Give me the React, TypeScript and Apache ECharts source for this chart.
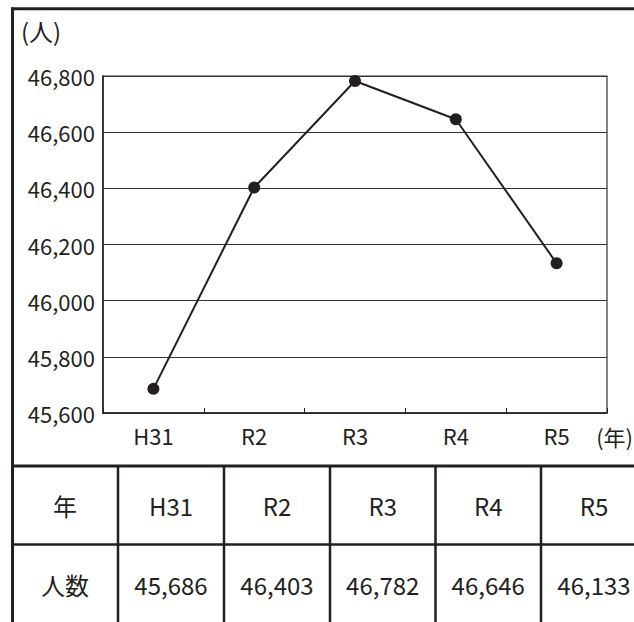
import React, { useEffect, useRef } from "react";
import * as echarts from "echarts";

const years = ["H31", "R2", "R3", "R4", "R5"];
const people = [45686, 46403, 46782, 46646, 46133];
const yTicks = { min: 45600, max: 46800, interval: 200 };
const yUnit = "(人)";
const xUnit = "(年)";
const rowHeaders = ["年", "人数"];

const FONT = "'Noto Sans CJK JP', 'Noto Sans', sans-serif";
const INK = "#231f20";

const fmt = (v: number) => v.toLocaleString("en-US");

export default function App() {
  const ref = useRef<HTMLDivElement>(null);
  useEffect(() => {
    if (!ref.current) return;
    const chart = echarts.init(ref.current, undefined, { renderer: "svg" });

    const colX = [12, 118, 224, 330, 435.5, 541, 647];
    const rowY = [466, 544.5, 624];
    const graphics: any[] = [];
    graphics.push({ type: "line", shape: { x1: 12.5, y1: 7.5, x2: 12.5, y2: 630 }, style: { stroke: INK, lineWidth: 3 } });
    graphics.push({ type: "line", shape: { x1: 11, y1: 8.8, x2: 640, y2: 8.8 }, style: { stroke: INK, lineWidth: 3 } });
    graphics.push({ type: "line", shape: { x1: 11, y1: rowY[0], x2: 640, y2: rowY[0] }, style: { stroke: INK, lineWidth: 3 } });
    graphics.push({ type: "line", shape: { x1: 11, y1: rowY[1], x2: 640, y2: rowY[1] }, style: { stroke: INK, lineWidth: 2.5 } });
    for (let i = 1; i < colX.length; i++) {
      graphics.push({ type: "line", shape: { x1: colX[i], y1: rowY[0], x2: colX[i], y2: 630 }, style: { stroke: INK, lineWidth: 2.5 } });
    }
    const rows = [years, people.map(fmt)];
    for (let r = 0; r < 2; r++) {
      const cy = (rowY[r] + rowY[r + 1]) / 2;
      graphics.push({
        type: "text",
        x: (colX[0] + colX[1]) / 2,
        y: cy,
        style: { text: rowHeaders[r], fontFamily: FONT, fontSize: 24, fill: INK, textAlign: "center", textVerticalAlign: "middle" },
      });
      rows[r].forEach((t, i) => {
        graphics.push({
          type: "text",
          x: (colX[i + 1] + colX[i + 2]) / 2,
          y: cy,
          style: { text: t, fontFamily: FONT, fontSize: 24, fill: INK, textAlign: "center", textVerticalAlign: "middle" },
        });
      });
    }
    graphics.push({
      type: "text", x: 21, y: 30,
      style: { text: yUnit, fontFamily: FONT, fontSize: 24, fill: INK, textAlign: "left", textVerticalAlign: "middle" },
    });
    graphics.push({
      type: "text", x: 633, y: 436,
      style: { text: xUnit, fontFamily: FONT, fontSize: 22, fill: INK, textAlign: "right", textVerticalAlign: "middle" },
    });

    chart.setOption({
      animation: false,
      grid: { left: 103, top: 76, right: 27, bottom: 209, show: true, borderColor: "#333", borderWidth: 1.2, backgroundColor: "transparent" },
      xAxis: {
        type: "category",
        data: years,
        boundaryGap: true,
        axisLine: { lineStyle: { color: INK, width: 1.5 } },
        axisTick: { show: true, inside: true, length: 5, lineStyle: { color: INK, width: 1 } },
        axisLabel: { fontFamily: FONT, fontSize: 22, color: INK, margin: 11 },
        splitLine: { show: false },
      },
      yAxis: {
        type: "value",
        min: yTicks.min,
        max: yTicks.max,
        interval: yTicks.interval,
        axisLine: { show: true, lineStyle: { color: INK, width: 1.5 } },
        axisTick: { show: false },
        axisLabel: { fontFamily: FONT, fontSize: 22, color: INK, margin: 8, formatter: (v: number) => fmt(v) },
        splitLine: { show: true, lineStyle: { color: "#333", width: 1.2 } },
      },
      series: [
        {
          type: "line",
          data: people,
          symbol: "circle",
          symbolSize: 12,
          lineStyle: { color: INK, width: 2 },
          itemStyle: { color: INK },
          z: 5,
        },
      ],
      graphic: graphics,
    });
    return () => chart.dispose();
  }, []);
  return (
    <div
      ref={ref}
      style={{ position: "absolute", left: 0, top: 0, width: 634, height: 622, background: "#fff" }}
    />
  );
}
